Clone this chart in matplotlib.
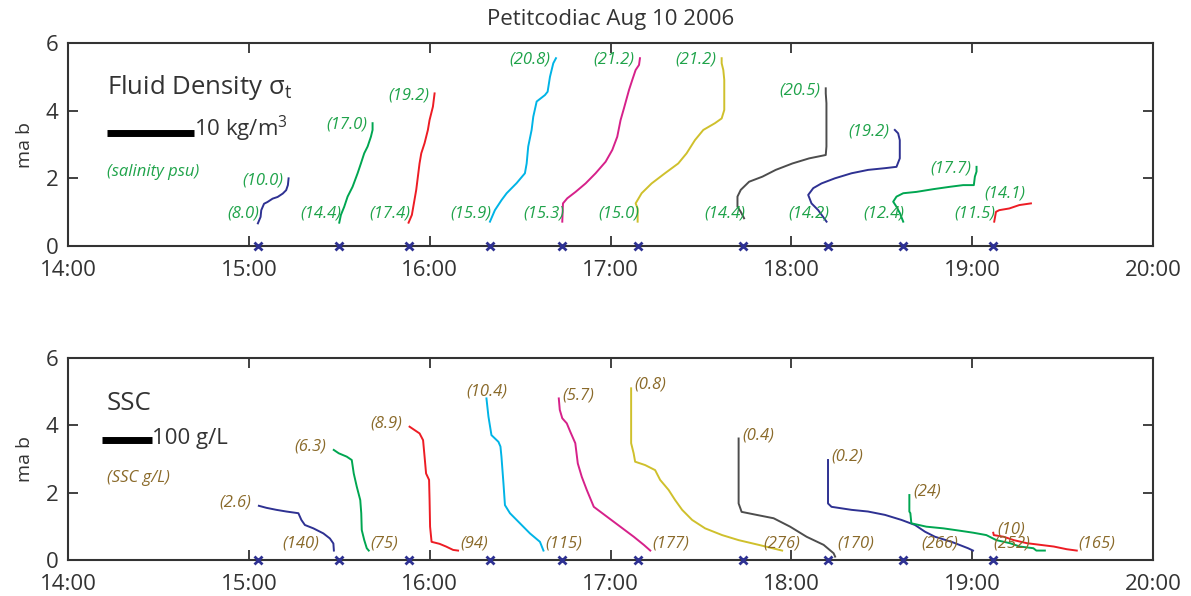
import numpy as np
import matplotlib
matplotlib.use("Agg")
import matplotlib.pyplot as plt

plt.rcParams['font.family'] = ['Open Sans', 'DejaVu Sans']
plt.rcParams['mathtext.fontset'] = 'dejavusans'

# estacoes (hora da perfilagem) e cores
station_times = ["15:03", "15:30", "15:53", "16:20", "16:44",
                 "17:09", "17:44", "18:12", "18:37", "19:07"]
colors = ["#2e3192", "#00a651", "#ed1c24", "#00b4e6", "#d6218a",
          "#cfc02c", "#4d4d4d", "#2e3192", "#00a651", "#ed1c24"]

# perfis de densidade (sigma-t relativo ao fundo, kg/m3) x altura (mab)
dens_sig = [
    [0, 0.31, 0.39, 0.71, 1.1, 1.69, 2.27, 2.86, 3.25, 3.45, 3.53],
    [0, 0.19, 0.57, 0.96, 1.53, 2.11, 2.49, 2.87, 3.26, 3.64, 3.83, 3.83],
    [0, 0.38, 0.61, 0.88, 1.07, 1.26, 1.46, 1.84, 2.22, 2.41, 2.8, 2.99],
    [0, 0.57, 1.34, 1.92, 3.07, 4.02, 4.22, 4.4, 4.79, 4.98, 5.37, 6.32, 6.63, 6.9, 7.28, 7.59],
    [0, 0.08, 0.57, 1.53, 2.68, 3.83, 4.98, 5.75, 6.32, 6.7, 7.09, 7.67, 8.05, 8.43, 8.82, 8.93],
    [0, 0, -0.23, 0.46, 1.61, 3.14, 4.67, 5.63, 6.59, 7.55, 8.89, 9.66, 9.96, 9.96, 9.85, 9.66, 9.66],
    [0.11, -0.27, -0.65, -0.65, -0.27, 0.69, 2.22, 3.75, 5.67, 7.59, 9.5, 9.58, 9.58, 9.5, 9.5],
    [-0.11, -1.07, -1.84, -2.22, -1.64, -0.69, 0.84, 2.76, 4.67, 6.59, 7.93, 8.31, 8.31, 8.12, 7.74],
    [0.04, -0.34, -0.73, -1.11, -0.73, 0.04, 1.57, 3.49, 5.4, 6.93, 8.16, 8.28, 8.47, 8.47],
    [0.11, 0.31, 0.69, 1.84, 2.99, 4.33],
]
dens_z = [
    [0.67, 0.86, 1.06, 1.25, 1.30, 1.40, 1.45, 1.55, 1.65, 1.80, 2.0],
    [0.69, 0.92, 1.16, 1.46, 1.75, 2.15, 2.44, 2.74, 2.94, 3.23, 3.43, 3.63],
    [0.69, 0.92, 1.26, 1.66, 2.05, 2.44, 2.74, 3.04, 3.43, 3.72, 4.12, 4.51],
    [0.72, 1.06, 1.36, 1.56, 1.86, 2.15, 2.44, 2.94, 3.43, 3.82, 4.27, 4.46, 4.56, 5.0, 5.4, 5.55],
    [0.72, 1.26, 1.41, 1.6, 1.85, 2.15, 2.49, 2.84, 3.23, 3.72, 4.07, 4.61, 4.91, 5.2, 5.35, 5.55],
    [0.72, 1.11, 1.26, 1.56, 1.85, 2.15, 2.44, 2.74, 3.13, 3.43, 3.63, 3.77, 4.02, 4.91, 5.2, 5.4, 5.55],
    [0.82, 1.01, 1.16, 1.46, 1.66, 1.9, 2.05, 2.25, 2.44, 2.59, 2.69, 2.94, 4.22, 4.51, 4.66],
    [0.72, 1.06, 1.26, 1.51, 1.71, 1.85, 2.0, 2.15, 2.25, 2.3, 2.34, 2.59, 3.13, 3.33, 3.43],
    [0.72, 0.97, 1.16, 1.31, 1.46, 1.56, 1.6, 1.68, 1.75, 1.8, 1.8, 2.05, 2.2, 2.34],
    [0.72, 1.01, 1.06, 1.11, 1.21, 1.26],
]
sal_bottom = ["(8.0)", "(14.4)", "(17.4)", "(15.9)", "(15.3)", "(15.0)", "(14.4)", "(14.2)", "(12.4)", "(11.5)"]
sal_top = ["(10.0)", "(17.0)", "(19.2)", "(20.8)", "(21.2)", "(21.2)", "(20.5)", "(19.2)", "(17.7)", "(14.1)"]

# perfis de SSC (g/L) x altura (mab)
ssc_val = [
    [2, 17, 37, 57, 81, 87, 94, 111, 131, 144, 151, 152],
    [-11, -1, 15, 25, 29, 35, 42, 44, 45, 50, 55, 59],
    [2, 12, 22, 29, 32, 35, 41, 42, 43, 46, 62, 75, 89, 99],
    [-7, -3, 3, 17, 21, 23, 27, 30, 40, 60, 80, 100, 107],
    [-7, -5, 0, 9, 16, 26, 31, 39, 49, 63, 89, 116, 143, 163, 176],
    [-13, -13, -8, -5, 15, 35, 45, 62, 75, 89, 109, 135, 169, 202, 242, 289],
    [-9, -9, -3, 27, 61, 94, 127, 161, 181, 184],
    [1, 1, 8, 48, 81, 115, 148, 175, 195, 215, 248, 281, 291],
    [13, 13, 15, 17, 47, 81, 114, 141, 167, 187, 214, 234, 261, 267, 284],
    [0, 1, 21, 41, 67, 94, 121, 147, 167],
]
ssc_z = [
    [1.61, 1.55, 1.49, 1.44, 1.39, 1.19, 1.04, 0.94, 0.79, 0.64, 0.49, 0.28],
    [3.27, 3.17, 3.07, 2.97, 2.57, 2.18, 1.78, 1.39, 0.89, 0.59, 0.35, 0.28],
    [3.96, 3.86, 3.76, 3.56, 3.07, 2.57, 2.38, 1.78, 0.99, 0.54, 0.48, 0.40, 0.30, 0.28],
    [4.8, 4.26, 3.71, 3.51, 3.37, 3.07, 2.28, 1.63, 1.39, 1.09, 0.79, 0.54, 0.28],
    [4.8, 4.46, 4.21, 4.06, 3.81, 3.47, 2.87, 2.47, 2.08, 1.58, 1.29, 0.99, 0.69, 0.45, 0.28],
    [5.1, 3.47, 3.17, 2.92, 2.82, 2.67, 2.38, 2.08, 1.78, 1.49, 1.19, 0.94, 0.74, 0.59, 0.45, 0.28],
    [3.61, 1.68, 1.43, 1.34, 1.24, 0.99, 0.69, 0.45, 0.2, 0.1],
    [2.97, 1.68, 1.58, 1.49, 1.44, 1.34, 1.19, 1.04, 0.84, 0.69, 0.54, 0.35, 0.28],
    [1.93, 1.44, 1.39, 1.09, 0.99, 0.94, 0.87, 0.81, 0.74, 0.59, 0.5, 0.4, 0.35, 0.28, 0.28],
    [0.81, 0.74, 0.69, 0.59, 0.5, 0.45, 0.4, 0.32, 0.28],
]
ssc_top = ["(2.6)", "(6.3)", "(8.9)", "(10.4)", "(5.7)", "(0.8)", "(0.4)", "(0.2)", "(24)", "(10)"]
ssc_bottom = ["(140)", "(75)", "(94)", "(115)", "(177)", "(276)", "(170)", "(266)", "(252)", "(165)"]
# lado do rotulo em relacao a ponta do perfil
ssc_top_side = ["r", "r", "r", "c", "l", "l", "l", "l", "l", "l"]
ssc_bot_side = ["r", "l", "l", "l", "l", "c", "l", "r", "r", "l"]

xticks = [14, 15, 16, 17, 18, 19, 20]
xticklabels = ["14:00", "15:00", "16:00", "17:00", "18:00", "19:00", "20:00"]

dens_scale = 0.0481   # horas por kg/m3
ssc_scale = 0.002765  # horas por g/L

green_txt = "#1fa34a"
brown_txt = "#8a6a2a"
frame = "#333333"
lbl_fs = 12


def hours(s):
    h, m = s.split(":")
    return int(h) + int(m) / 60.0


t_st = [hours(s) for s in station_times]

fig = plt.figure(figsize=(11.91, 5.96), dpi=100)
ax1 = fig.add_axes([0.0571, 0.5872, 0.911, 0.3407])
ax2 = fig.add_axes([0.0571, 0.0604, 0.911, 0.3389])

for ax in (ax1, ax2):
    ax.set_xlim(14, 20)
    ax.set_ylim(0, 6)
    ax.set_xticks(xticks)
    ax.set_xticklabels(xticklabels)
    ax.set_yticks([0, 2, 4, 6])
    ax.tick_params(direction="in", length=7, width=1.3, top=True, right=True,
                   labelsize=16, colors=frame, pad=7)
    ax.tick_params(axis="x", pad=10)
    for sp in ax.spines.values():
        sp.set_linewidth(1.5)
        sp.set_color(frame)
    ax.set_ylabel("ma b", fontsize=14, color=frame, labelpad=8)
    ax.plot(t_st, np.zeros(len(t_st)), "x", color="#2e3192", ms=6, mew=2,
            clip_on=False, zorder=5)

# painel de densidade
for i in range(len(t_st)):
    x = t_st[i] + np.array(dens_sig[i]) * dens_scale
    z = np.array(dens_z[i])
    ax1.plot(x, z, color=colors[i], lw=1.4)
    ax1.text(t_st[i] + 0.01, 0.97, sal_bottom[i], ha="right", va="center",
             color=green_txt, fontsize=lbl_fs, style="italic")
    # rotulo do topo, sem encostar no rotulo do fundo
    ax1.text(x[-1] - 0.03, max(z[-1] - 0.05, 1.55), sal_top[i], ha="right",
             va="center", color=green_txt, fontsize=lbl_fs, style="italic")

ax1.set_title("Petitcodiac Aug 10 2006", fontsize=16, color=frame, pad=13)
ax1.text(14.216, 4.67, "Fluid Density σ$_\\mathregular{t}$", fontsize=18.5,
         color=frame, va="center")
bar_x0 = 14.216
ax1.plot([bar_x0, bar_x0 + 10 * dens_scale], [3.34, 3.34], color="black", lw=5,
         solid_capstyle="butt")
ax1.text(bar_x0 + 10 * dens_scale, 3.45, r"10 kg/m$^\mathregular{3}$", fontsize=16,
         color=frame, va="center")
ax1.text(14.216, 2.2, "(salinity psu)", fontsize=12, color=green_txt,
         style="italic", va="center")

# painel de SSC
for i in range(len(t_st)):
    x = t_st[i] + np.array(ssc_val[i]) * ssc_scale
    z = np.array(ssc_z[i])
    ax2.plot(x, z, color=colors[i], lw=1.4)
    side = ssc_top_side[i]
    if side == "r":
        ax2.text(x[0] - 0.04, z[0] + 0.1, ssc_top[i], ha="right", va="center",
                 color=brown_txt, fontsize=lbl_fs, style="italic")
    elif side == "c":
        ax2.text(x[0], z[0] + 0.2, ssc_top[i], ha="center", va="center",
                 color=brown_txt, fontsize=lbl_fs, style="italic")
    else:
        ax2.text(x[0] + 0.02, z[0] + 0.1, ssc_top[i], ha="left", va="center",
                 color=brown_txt, fontsize=lbl_fs, style="italic")
    side = ssc_bot_side[i]
    if side == "r":
        ax2.text(x[-1] - 0.08, 0.5, ssc_bottom[i], ha="right", va="center",
                 color=brown_txt, fontsize=lbl_fs, style="italic")
    elif side == "c":
        ax2.text(x[-1], 0.5, ssc_bottom[i], ha="center", va="center",
                 color=brown_txt, fontsize=lbl_fs, style="italic")
    else:
        ax2.text(x[-1] + 0.01, 0.5, ssc_bottom[i], ha="left", va="center",
                 color=brown_txt, fontsize=lbl_fs, style="italic")

ax2.text(14.216, 4.66, "SSC", fontsize=18.5, color=frame, va="center")
bar_x0 = 14.19
ax2.plot([bar_x0, bar_x0 + 100 * ssc_scale], [3.56, 3.56], color="black", lw=5,
         solid_capstyle="butt")
ax2.text(bar_x0 + 100 * ssc_scale, 3.62, "100 g/L", fontsize=16, color=frame,
         va="center")
ax2.text(14.216, 2.44, "(SSC g/L)", fontsize=12, color=brown_txt,
         style="italic", va="center")

fig.savefig("out.png", dpi=100)
